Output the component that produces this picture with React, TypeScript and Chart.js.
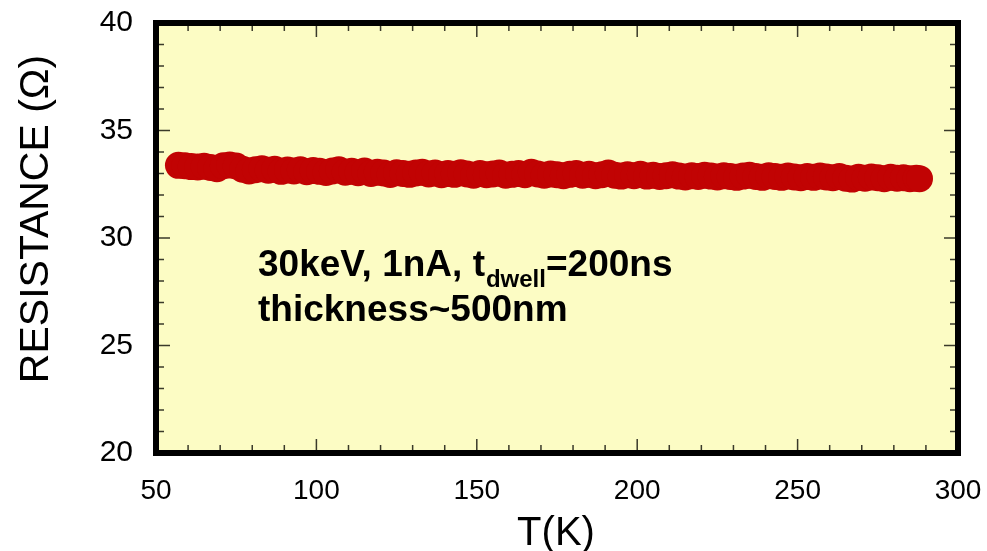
import { useEffect, useRef } from 'react';
import { Chart, registerables } from 'chart.js';

Chart.register(...registerables);

// ---- data ----
const temperatures = [
  57, 59, 61, 63, 65, 67, 69, 71, 73, 75, 77, 79, 81, 83, 85, 87, 89, 91, 93, 95,
  97, 99, 101, 103, 105, 107, 109, 111, 113, 115, 117, 119, 121, 123, 125, 127, 129, 131, 133, 135,
  137, 139, 141, 143, 145, 147, 149, 151, 153, 155, 157, 159, 161, 163, 165, 167, 169, 171, 173, 175,
  177, 179, 181, 183, 185, 187, 189, 191, 193, 195, 197, 199, 201, 203, 205, 207, 209, 211, 213, 215,
  217, 219, 221, 223, 225, 227, 229, 231, 233, 235, 237, 239, 241, 243, 245, 247, 249, 251, 253, 255,
  257, 259, 261, 263, 265, 267, 269, 271, 273, 275, 277, 279, 281, 283, 285, 287, 288,
];
const resistances = [
  33.38, 33.36, 33.32, 33.30, 33.34, 33.28, 33.22, 33.36, 33.40, 33.35, 33.20, 33.12, 33.18, 33.22, 33.15, 33.20, 33.10, 33.16, 33.12, 33.18,
  33.08, 33.14, 33.10, 33.05, 33.12, 33.18, 33.06, 33.10, 33.04, 33.12, 33.00, 33.06, 33.02, 32.95, 33.04, 33.00, 32.96, 33.02, 33.06, 32.98,
  33.02, 32.94, 33.00, 32.96, 33.04, 32.98, 32.92, 33.00, 32.94, 32.98, 33.02, 32.92, 32.96, 33.00, 32.94, 33.06, 32.98, 32.92, 32.98, 32.94,
  32.90, 32.96, 33.00, 32.92, 32.96, 32.90, 32.94, 33.02, 32.92, 32.88, 32.94, 32.90, 32.96, 32.88, 32.92, 32.86, 32.90, 32.94, 32.88, 32.84,
  32.90, 32.86, 32.92, 32.88, 32.84, 32.90, 32.86, 32.82, 32.88, 32.92, 32.86, 32.82, 32.90, 32.86, 32.82, 32.88, 32.84, 32.80, 32.86, 32.82,
  32.88, 32.84, 32.80, 32.86, 32.78, 32.74, 32.82, 32.78, 32.84, 32.80, 32.76, 32.82, 32.78, 32.80, 32.76, 32.78, 32.76,
];
const xTicks = [50, 100, 150, 200, 250, 300];
const yTicks = [20, 25, 30, 35, 40];
const xMinorStep = 10;
const yMinorStep = 1;
const xTitle = 'T(K)';
const yTitle = 'RESISTANCE (\u03A9)';
const noteMain = '30keV, 1nA, t';
const noteSub = 'dwell';
const noteTail = '=200ns';
const noteLine2 = 'thickness~500nm';
const noteAnchorT = 81.8;
const noteLine1R = 28.22;
const noteLine2R = 26.14;

const FONT = '"Liberation Sans", Arial, Helvetica, sans-serif';

const framePlugin = {
  id: 'framePlugin',
  beforeDatasetsDraw(chart: any) {
    const { ctx, chartArea } = chart;
    const { left, top, right, bottom } = chartArea;
    ctx.save();
    ctx.fillStyle = '#FCFCC4';
    ctx.fillRect(left, top, right - left, bottom - top);
    ctx.restore();
  },
  afterDatasetsDraw(chart: any) {
    const { ctx, chartArea } = chart;
    const { left, top, right, bottom } = chartArea;
    const xs = chart.scales.x;
    const ys = chart.scales.y;
    ctx.save();
    // minor & major ticks (inside)
    ctx.strokeStyle = '#3a3a2a';
    ctx.lineWidth = 1.5;
    const xMin = xTicks[0], xMax = xTicks[xTicks.length - 1];
    const xMajor = xTicks[1] - xTicks[0];
    for (let v = xMin + xMinorStep; v < xMax; v += xMinorStep) {
      const px = xs.getPixelForValue(v);
      const major = Math.abs(((v - xMin) % xMajor)) < 1e-6;
      const len = major ? 14 : 8;
      ctx.beginPath();
      ctx.moveTo(px, bottom);
      ctx.lineTo(px, bottom - len);
      ctx.moveTo(px, top);
      ctx.lineTo(px, top + len);
      ctx.stroke();
    }
    const yMin = yTicks[0], yMax = yTicks[yTicks.length - 1];
    const yMajor = yTicks[1] - yTicks[0];
    for (let v = yMin + yMinorStep; v < yMax; v += yMinorStep) {
      const py = ys.getPixelForValue(v);
      const major = Math.abs(((v - yMin) % yMajor)) < 1e-6;
      const len = major ? 14 : 8;
      ctx.beginPath();
      ctx.moveTo(left, py);
      ctx.lineTo(left + len, py);
      ctx.moveTo(right, py);
      ctx.lineTo(right - len, py);
      ctx.stroke();
    }
    // frame
    ctx.strokeStyle = '#000';
    ctx.lineWidth = 6;
    ctx.lineJoin = 'miter';
    ctx.strokeRect(left, top, right - left, bottom - top);

    // annotation
    ctx.fillStyle = '#000';
    ctx.textBaseline = 'alphabetic';
    ctx.textAlign = 'left';
    const ax = xs.getPixelForValue(noteAnchorT);
    const b1 = ys.getPixelForValue(noteLine1R);
    const b2 = ys.getPixelForValue(noteLine2R);
    ctx.font = `bold 37px ${FONT}`;
    ctx.fillText(noteMain, ax, b1);
    let cx = ax + ctx.measureText(noteMain).width + 1;
    ctx.font = `bold 24px ${FONT}`;
    ctx.fillText(noteSub, cx, b1 + 11);
    cx += ctx.measureText(noteSub).width;
    ctx.font = `bold 37px ${FONT}`;
    ctx.fillText(noteTail, cx, b1);
    ctx.fillText(noteLine2, ax, b2);

    // axis titles
    ctx.font = `40px ${FONT}`;
    ctx.textAlign = 'center';
    ctx.fillText(xTitle, (left + right) / 2 - 1, 545);
    ctx.save();
    ctx.translate(48, 219);
    ctx.rotate(-Math.PI / 2);
    ctx.font = `41px ${FONT}`;
    ctx.fillText(yTitle, 0, 0);
    ctx.restore();
    ctx.restore();
  },
};

function zeroPad(s: any) {
  s.paddingTop = 0;
  s.paddingBottom = 0;
  s.paddingLeft = 0;
  s.paddingRight = 0;
}

export default function App() {
  const ref = useRef<HTMLCanvasElement | null>(null);
  useEffect(() => {
    if (!ref.current) return;
    const chart = new Chart(ref.current, {
      type: 'scatter',
      data: {
        datasets: [
          {
            data: temperatures.map((t, i) => ({ x: t, y: resistances[i] })),
            pointRadius: 13.5,
            pointHoverRadius: 13.5,
            pointBackgroundColor: '#C10303',
            pointBorderWidth: 0,
            showLine: false,
          },
        ],
      },
      options: {
        responsive: false,
        animation: false,
        events: [],
        layout: { padding: { top: 23, right: 29, left: 0, bottom: 0 } },
        plugins: { legend: { display: false }, tooltip: { enabled: false } },
        scales: {
          x: {
            type: 'linear',
            min: xTicks[0],
            max: xTicks[xTicks.length - 1],
            grid: { display: false },
            border: { display: false },
            ticks: {
              stepSize: xTicks[1] - xTicks[0],
              color: '#000',
              font: { family: FONT, size: 28 },
              padding: 13,
              maxRotation: 0,
            },
            afterFit: (s: any) => {
              s.height = 98;
              zeroPad(s);
            },
          },
          y: {
            type: 'linear',
            min: yTicks[0],
            max: yTicks[yTicks.length - 1],
            grid: { display: false },
            border: { display: false },
            ticks: {
              stepSize: yTicks[1] - yTicks[0],
              color: '#000',
              font: { family: FONT, size: 30 },
              padding: 15,
            },
            afterFit: (s: any) => {
              s.width = 156;
              zeroPad(s);
            },
          },
        },
      },
      plugins: [framePlugin],
    });
    return () => chart.destroy();
  }, []);
  return (
    <div style={{ position: 'fixed', left: 0, top: 0, width: 987, height: 551, background: '#fff' }}>
      <canvas ref={ref} width={987} height={551} style={{ display: 'block' }} />
    </div>
  );
}
